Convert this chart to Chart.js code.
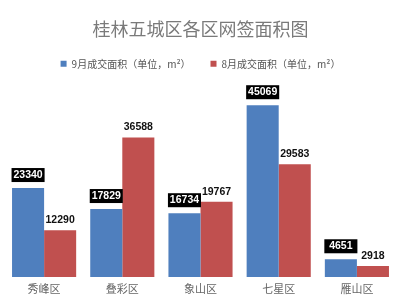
<!DOCTYPE html>
<html>
<head>
<meta charset="utf-8">
<script src="https://cdn.jsdelivr.net/npm/chart.js@4/dist/chart.umd.min.js"></script>
<style>
  html, body { margin: 0; padding: 0; background: #fff; }
  #wrap { width: 400px; height: 297px; }
</style>
</head>
<body>
<div id="wrap"><canvas id="areaChart" width="400" height="297"></canvas></div>
<script>
var districts = ["秀峰区", "叠彩区", "象山区", "七星区", "雁山区"];
var septArea = [23340, 17829, 16734, 45069, 4651];
var augArea = [12290, 36588, 19767, 29583, 2918];

var cjk = '"Noto Sans CJK SC", "Noto Sans", sans-serif';

// value labels above bars: black boxes for September, plain text for August
var barLabels = {
    id: 'barLabels',
    afterDatasetsDraw: function(chart) {
        var ctx = chart.ctx;
        ctx.save();
        ctx.font = 'bold 10.5px "Liberation Sans", Arial, sans-serif';
        ctx.textAlign = 'center';
        ctx.textBaseline = 'middle';
        chart.data.datasets.forEach(function(ds, i) {
            var meta = chart.getDatasetMeta(i);
            meta.data.forEach(function(bar, j) {
                var txt = String(ds.data[j]);
                if (i == 0) {
                    var w = bar.width + 1;
                    ctx.fillStyle = '#000';
                    ctx.fillRect(bar.x - w / 2, bar.y - 20, w, 14);
                    ctx.fillStyle = '#fff';
                    ctx.fillText(txt, bar.x, bar.y - 13);
                } else {
                    ctx.fillStyle = '#111';
                    ctx.fillText(txt, bar.x, bar.y - 10);
                }
            });
        });
        ctx.restore();
    }
};

var ctx = document.getElementById("areaChart").getContext("2d");

var myChart = new Chart(ctx, {
    type: 'bar',
    data: {
        labels: districts,
        datasets: [{
            label: "9月成交面积（单位，m²）",
            data: septArea,
            backgroundColor: "#4f7fbe",
            borderWidth: 0
        }, {
            label: "8月成交面积（单位，m²）",
            data: augArea,
            backgroundColor: "#c0504f",
            borderWidth: 0
        }]
    },
    options: {
        responsive: false,
        animation: false,
        layout: { padding: { left: 5, right: 4, top: 0, bottom: -3 } },
        datasets: { bar: { barPercentage: 1, categoryPercentage: 0.82 } },
        plugins: {
            title: {
                display: true,
                text: "桂林五城区各区网签面积图",
                color: "#7a7a7a",
                font: { family: cjk, size: 18, weight: 'normal', lineHeight: 1.1 },
                padding: { top: 19, bottom: 0 }
            },
            legend: {
                display: true,
                labels: {
                    color: "#555",
                    font: { family: cjk, size: 10 },
                    boxWidth: 6,
                    boxHeight: 6,
                    padding: 20
                }
            },
            tooltip: { enabled: false }
        },
        scales: {
            x: {
                grid: { display: false, drawTicks: false },
                border: { display: false },
                ticks: { color: "#666", font: { family: cjk, size: 11, lineHeight: 1 }, padding: 6 }
            },
            y: {
                display: false,
                min: 0,
                max: 52000
            }
        }
    },
    plugins: [barLabels]
});
</script>
</body>
</html>
